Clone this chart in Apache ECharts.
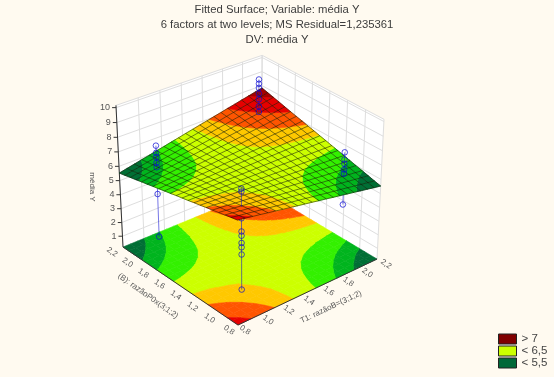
<!DOCTYPE html>
<html>
<head>
<meta charset="utf-8">
<style>
  html, body { margin: 0; padding: 0; background: #fffaf0; }
  #main { width: 554px; height: 377px; }
</style>
</head>
<body>
<div id="main"></div>
<script src="https://cdn.jsdelivr.net/npm/echarts@6/dist/echarts.min.js"></script>
<script>
const titleLines = ['Fitted Surface; Variable: média Y', '6 factors at two levels; MS Residual=1,235361', 'DV: média Y']
const planeTicks = ['0,8', '1,0', '1,2', '1,4', '1,6', '1,8', '2,0', '2,2']
const planeTickValues = [0.8, 1.0, 1.2, 1.4, 1.6, 1.8, 2.0, 2.2]
const heightTicks = [1, 2, 3, 4, 5, 6, 7, 8, 9, 10]
const xTitle = 'T1: razãoB=(3;1;2)'
const yTitle = '(B): razãoP0x(3;1;2)'
const zTitle = 'média Y'
const legendNames = ['> 7', '< 6,5', '< 5,5']
const legendColors = ['#800000', '#ccff00', '#006838']
const bandLevels = [5.87, 6.12, 6.40, 6.70, 6.95, 7.25, 7.6]
const bandColors = ['#006f35', '#00b41e', '#33f000', '#ccff00', '#ffc800', '#ff5500', '#e60000', '#a80000']
// fitted surface, rows follow y = 0.8 .. 2.2, columns follow x = 0.8 .. 2.2
const surfaceZ = [
  [7.42, 7.33, 7.23, 7.14, 7.04, 6.95, 6.85, 6.76, 6.66, 6.57, 6.48, 6.38, 6.29, 6.19, 6.10, 6.00, 5.91, 5.81, 5.72, 5.62, 5.53],
  [7.33, 7.24, 7.16, 7.07, 6.99, 6.91, 6.82, 6.74, 6.65, 6.57, 6.49, 6.40, 6.32, 6.23, 6.15, 6.07, 5.98, 5.90, 5.81, 5.73, 5.64],
  [7.23, 7.16, 7.08, 7.01, 6.94, 6.86, 6.79, 6.72, 6.64, 6.57, 6.50, 6.42, 6.35, 6.27, 6.20, 6.13, 6.05, 5.98, 5.91, 5.83, 5.76],
  [7.14, 7.07, 7.01, 6.95, 6.88, 6.82, 6.76, 6.70, 6.63, 6.57, 6.51, 6.44, 6.38, 6.32, 6.25, 6.19, 6.13, 6.06, 6.00, 5.94, 5.88],
  [7.04, 6.99, 6.94, 6.88, 6.83, 6.78, 6.73, 6.67, 6.62, 6.57, 6.52, 6.46, 6.41, 6.36, 6.31, 6.25, 6.20, 6.15, 6.10, 6.04, 5.99],
  [6.95, 6.91, 6.86, 6.82, 6.78, 6.74, 6.69, 6.65, 6.61, 6.57, 6.53, 6.48, 6.44, 6.40, 6.36, 6.32, 6.27, 6.23, 6.19, 6.15, 6.11],
  [6.85, 6.82, 6.79, 6.76, 6.73, 6.70, 6.66, 6.63, 6.60, 6.57, 6.54, 6.50, 6.47, 6.44, 6.41, 6.38, 6.35, 6.31, 6.28, 6.25, 6.22],
  [6.76, 6.74, 6.72, 6.69, 6.67, 6.65, 6.63, 6.61, 6.59, 6.57, 6.55, 6.53, 6.50, 6.48, 6.46, 6.44, 6.42, 6.40, 6.38, 6.36, 6.34],
  [6.66, 6.65, 6.64, 6.63, 6.62, 6.61, 6.60, 6.59, 6.58, 6.57, 6.56, 6.55, 6.54, 6.52, 6.51, 6.50, 6.49, 6.48, 6.47, 6.46, 6.45],
  [6.57, 6.57, 6.57, 6.57, 6.57, 6.57, 6.57, 6.57, 6.57, 6.57, 6.57, 6.57, 6.57, 6.57, 6.57, 6.57, 6.57, 6.57, 6.57, 6.57, 6.57],
  [6.48, 6.49, 6.50, 6.51, 6.52, 6.53, 6.54, 6.55, 6.56, 6.57, 6.58, 6.59, 6.60, 6.61, 6.62, 6.63, 6.64, 6.65, 6.66, 6.67, 6.68],
  [6.38, 6.40, 6.42, 6.44, 6.46, 6.48, 6.51, 6.53, 6.55, 6.57, 6.59, 6.61, 6.63, 6.65, 6.67, 6.69, 6.71, 6.73, 6.75, 6.77, 6.80],
  [6.29, 6.32, 6.35, 6.38, 6.41, 6.44, 6.47, 6.50, 6.54, 6.57, 6.60, 6.63, 6.66, 6.69, 6.72, 6.75, 6.79, 6.82, 6.85, 6.88, 6.91],
  [6.19, 6.23, 6.28, 6.32, 6.36, 6.40, 6.44, 6.48, 6.53, 6.57, 6.61, 6.65, 6.69, 6.73, 6.78, 6.82, 6.86, 6.90, 6.94, 6.98, 7.03],
  [6.10, 6.15, 6.20, 6.25, 6.31, 6.36, 6.41, 6.46, 6.51, 6.57, 6.62, 6.67, 6.72, 6.78, 6.83, 6.88, 6.93, 6.98, 7.04, 7.09, 7.14],
  [6.00, 6.07, 6.13, 6.19, 6.25, 6.32, 6.38, 6.44, 6.50, 6.57, 6.63, 6.69, 6.75, 6.82, 6.88, 6.94, 7.00, 7.07, 7.13, 7.19, 7.25],
  [5.91, 5.98, 6.05, 6.13, 6.20, 6.27, 6.35, 6.42, 6.49, 6.57, 6.64, 6.71, 6.79, 6.86, 6.93, 7.00, 7.08, 7.15, 7.22, 7.30, 7.37],
  [5.81, 5.90, 5.98, 6.06, 6.15, 6.23, 6.32, 6.40, 6.48, 6.57, 6.65, 6.73, 6.82, 6.90, 6.98, 7.07, 7.15, 7.23, 7.32, 7.40, 7.49],
  [5.72, 5.81, 5.91, 6.00, 6.10, 6.19, 6.28, 6.38, 6.47, 6.57, 6.66, 6.75, 6.85, 6.94, 7.04, 7.13, 7.22, 7.32, 7.41, 7.51, 7.60],
  [5.62, 5.73, 5.83, 5.94, 6.04, 6.15, 6.25, 6.36, 6.46, 6.57, 6.67, 6.77, 6.88, 6.98, 7.09, 7.19, 7.30, 7.40, 7.51, 7.61, 7.72],
  [5.53, 5.65, 5.76, 5.88, 5.99, 6.11, 6.22, 6.34, 6.45, 6.57, 6.68, 6.80, 6.91, 7.03, 7.14, 7.26, 7.37, 7.49, 7.60, 7.72, 7.83]
]
// observed values, one list per factor combination
const lowLowY = [1.2, 3.68, 4.18, 4.48, 4.98, 5.27, 6.17, 7.96, 8.16]
const lowHighY = [1.1, 4.18, 6.07, 6.37, 6.77, 7.07, 7.56]
const highLowY = [4.08, 6.27, 6.57, 6.97, 7.26, 7.76]
const highHighY = [7.26, 7.66, 8.16, 8.56, 8.96, 9.25, 9.55]

const planeMin = 0.8
const planeMax = 2.2
const zMin = 0.2
const zMax = 10.15
const gridCount = surfaceZ.length - 1

// camera of the 3d box, u along x, v along y, w upward
function project (u, v, w) {
  let d = 1 + 0.0755 * u + 0.0666 * v - 0.056 * w
  return [
    (238 + 167.5 * u - 106.8 * v - 14 * w) / d,
    (325 - 46.4 * u - 61.5 * v - 157 * w) / d
  ]
}
function toU (val) {
  return (val - planeMin) / (planeMax - planeMin)
}
function toW (val) {
  return (val - zMin) / (zMax - zMin)
}
function pt (api, u, v, w) {
  return api.coord(project(u, v, w))
}
function line (a, b, color, width) {
  return {
    type: 'line',
    shape: { x1: a[0], y1: a[1], x2: b[0], y2: b[1] },
    style: { stroke: color, lineWidth: width }
  }
}
function label (pos, text, rotation, size, align, color) {
  return {
    type: 'text',
    x: pos[0],
    y: pos[1],
    rotation: rotation,
    style: { text: text, fill: color || '#555', fontSize: size, fontFamily: 'Liberation Sans', align: align || 'center', verticalAlign: 'middle' }
  }
}
// keep the part of a polygon of [u, v, val] corners on one side of a level
function cut (list, limit, sign) {
  let out = []
  list.forEach((p, n) => {
    let q = list[(n + 1) % list.length]
    let pIn = (p[2] - limit) * sign >= 0
    let qIn = (q[2] - limit) * sign >= 0
    if (pIn) out.push(p)
    if (pIn !== qIn) {
      let t = (limit - p[2]) / (q[2] - p[2])
      out.push([p[0] + (q[0] - p[0]) * t, p[1] + (q[1] - p[1]) * t, limit])
    }
  })
  return out
}
function bandPolys (api, i, j, onFloor) {
  let n = gridCount
  let corners = [
    [i / n, j / n, surfaceZ[j][i]],
    [(i + 1) / n, j / n, surfaceZ[j][i + 1]],
    [(i + 1) / n, (j + 1) / n, surfaceZ[j + 1][i + 1]],
    [i / n, (j + 1) / n, surfaceZ[j + 1][i]]
  ]
  let children = []
  bandColors.forEach((color, k) => {
    let poly = corners
    if (k > 0) poly = cut(poly, bandLevels[k - 1], 1)
    if (k < bandLevels.length && poly.length) poly = cut(poly, bandLevels[k], -1)
    if (poly.length > 2) {
      children.push({
        type: 'polygon',
        shape: { points: poly.map(p => pt(api, p[0], p[1], onFloor ? 0 : toW(p[2]))) },
        style: { fill: color, stroke: color, lineWidth: 0.6 }
      })
    }
  })
  return children
}

const cells = []
for (let j = gridCount - 1; j >= 0; j--) {
  for (let i = gridCount - 1; i >= 0; i--) {
    cells.push([i, j])
  }
}

function renderBox (params, api) {
  let children = []
  let gridColor = '#dedede'
  children.push({
    type: 'polygon',
    shape: { points: [pt(api, 0, 1, 0), pt(api, 1, 1, 0), pt(api, 1, 1, 1), pt(api, 0, 1, 1)] },
    style: { fill: '#fff' }
  })
  children.push({
    type: 'polygon',
    shape: { points: [pt(api, 1, 0, 0), pt(api, 1, 1, 0), pt(api, 1, 1, 1), pt(api, 1, 0, 1)] },
    style: { fill: '#fff' }
  })
  planeTickValues.forEach(val => {
    let t = toU(val)
    children.push(line(pt(api, t, 1, 0), pt(api, t, 1, 1), gridColor, 1))
    children.push(line(pt(api, 1, t, 0), pt(api, 1, t, 1), gridColor, 1))
  })
  heightTicks.forEach(val => {
    let w = toW(val)
    children.push(line(pt(api, 0, 1, w), pt(api, 1, 1, w), gridColor, 1))
    children.push(line(pt(api, 1, 1, w), pt(api, 1, 0, w), gridColor, 1))
  })
  children.push(line(pt(api, 0, 1, 1), pt(api, 1, 1, 1), gridColor, 1))
  children.push(line(pt(api, 1, 1, 1), pt(api, 1, 0, 1), gridColor, 1))
  return { type: 'group', children: children }
}
function renderFloor (params, api) {
  return { type: 'group', children: bandPolys(api, api.value(0), api.value(1), true) }
}
function renderAxes (params, api) {
  let children = []
  let axisColor = '#333'
  children.push(line(pt(api, 0, 1, 0), pt(api, 0, 0, 0), axisColor, 1))
  children.push(line(pt(api, 0, 0, 0), pt(api, 1, 0, 0), axisColor, 1))
  children.push(line(pt(api, 0, 1, 0), pt(api, 0, 1, 1), axisColor, 1))
  heightTicks.forEach(val => {
    let p = pt(api, 0, 1, toW(val))
    children.push(line(p, [p[0] - 4, p[1]], axisColor, 1))
    children.push(label([p[0] - 6, p[1]], String(val), 0, 9, 'right'))
  })
  planeTickValues.forEach((val, n) => {
    let t = toU(val)
    let a = pt(api, t, 0, 0)
    let b = pt(api, 0, t, 0)
    // the two labels at the front corner sit a little closer together
    let pull = n === 0 ? 2 : 0
    children.push(label([a[0] + 9 - pull, a[1] + 5], planeTicks[n], -0.6, 8))
    children.push(label([b[0] - 11 + pull, b[1] + 5], planeTicks[n], -0.6, 8))
  })
  children.push(label([331, 307], xTitle, 0.44, 8))
  children.push(label([148, 296], yTitle, -0.62, 8))
  children.push(label([92, 187], zTitle, -Math.PI / 2, 8))
  return { type: 'group', children: children }
}
function renderSurface (params, api) {
  return { type: 'group', children: bandPolys(api, api.value(0), api.value(1), false) }
}
function renderMesh (params, api) {
  let i = api.value(0)
  let j = api.value(1)
  let n = gridCount
  let a = pt(api, i / n, j / n, toW(surfaceZ[j][i]))
  let b = pt(api, (i + 1) / n, j / n, toW(surfaceZ[j][i + 1]))
  let c = pt(api, (i + 1) / n, (j + 1) / n, toW(surfaceZ[j + 1][i + 1]))
  let d = pt(api, i / n, (j + 1) / n, toW(surfaceZ[j + 1][i]))
  let mesh = 'rgba(15,25,0,0.6)'
  let children = [line(a, b, mesh, 0.9), line(a, d, mesh, 0.9)]
  if (i === n - 1) children.push(line(b, c, mesh, 0.9))
  if (j === n - 1) children.push(line(d, c, mesh, 0.9))
  return { type: 'group', children: children }
}
const columns = [
  { x: 1, y: 1, values: lowLowY },
  { x: 1, y: 2, values: lowHighY },
  { x: 2, y: 1, values: highLowY },
  { x: 2, y: 2, values: highHighY }
]
function columnFit (col) {
  return surfaceZ[Math.round(toU(col.y) * gridCount)][Math.round(toU(col.x) * gridCount)]
}
function renderPoints (above) {
  return function (params, api) {
    let children = []
    let blue = 'rgba(10,10,210,0.7)'
    columns.forEach(col => {
      let u = toU(col.x)
      let v = toU(col.y)
      let fit = columnFit(col)
      let shown = col.values.filter(val => above ? val >= fit : val < fit)
      if (!shown.length) return
      let far = above ? Math.max.apply(null, shown) : Math.min.apply(null, shown)
      children.push(line(pt(api, u, v, toW(far)), pt(api, u, v, toW(fit)), blue, 0.8))
      shown.forEach(val => {
        let p = pt(api, u, v, toW(val))
        children.push({
          type: 'circle',
          shape: { cx: p[0], cy: p[1], r: 2.8 },
          style: { fill: 'none', stroke: blue, lineWidth: 1 }
        })
      })
    })
    return { type: 'group', children: children }
  }
}
function renderTitle (params, api) {
  return {
    type: 'group',
    children: titleLines.map((text, n) => label(api.coord([277, 10 + n * 15]), text, 0, 11.3, 'center', '#3c3c3c'))
  }
}

let myChart = echarts.init(document.getElementById('main'), null, { renderer: 'canvas' })
let custom = (renderItem, data) => ({
  type: 'custom',
  coordinateSystem: 'cartesian2d',
  renderItem: renderItem,
  data: data,
  encode: { x: 0, y: 1 },
  clip: false,
  silent: true
})
let series = [
  custom(renderBox, [[0, 0]]),
  custom(renderFloor, cells),
  custom(renderAxes, [[0, 0]]),
  custom(renderPoints(false), [[0, 0]]),
  custom(renderSurface, cells),
  custom(renderMesh, cells),
  custom(renderPoints(true), [[0, 0]]),
  custom(renderTitle, [[0, 0]])
]
legendNames.forEach((name, n) => {
  series.push({
    type: 'custom',
    name: name,
    coordinateSystem: 'cartesian2d',
    renderItem: () => ({ type: 'group', children: [] }),
    data: [],
    itemStyle: { color: legendColors[n] }
  })
})
myChart.setOption({
  animation: false,
  backgroundColor: '#fffaf0',
  grid: { left: 0, right: 0, top: 0, bottom: 0 },
  xAxis: { type: 'value', min: 0, max: 554, show: false },
  yAxis: { type: 'value', min: 0, max: 377, inverse: true, show: false },
  legend: {
    data: legendNames.map(name => ({ name: name, icon: 'rect' })),
    orient: 'vertical',
    left: 498,
    top: 333,
    width: 56,
    height: 44,
    padding: 0,
    itemWidth: 18,
    itemHeight: 10,
    itemGap: 0,
    selectedMode: false,
    itemStyle: { borderColor: '#222', borderWidth: 1 },
    textStyle: { color: '#444', fontSize: 11.5, lineHeight: 10, fontFamily: 'Liberation Sans' }
  },
  series: series
})
</script>
</body>
</html>
